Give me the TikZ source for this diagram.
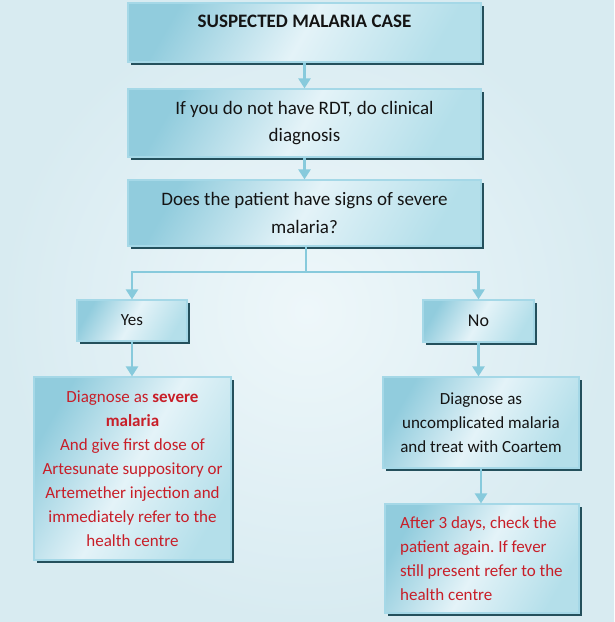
\documentclass[tikz,border=0pt]{standalone}
\usepackage{fontspec}
\setmainfont{Carlito}
\frenchspacing
\usetikzlibrary{arrows.meta,shadows,calc}
\definecolor{bgin}{RGB}{238,247,250}
\definecolor{bgout}{RGB}{216,235,241}
\definecolor{boxdark}{RGB}{145,204,221}
\definecolor{boxmid}{RGB}{228,243,248}
\definecolor{boxlight}{RGB}{180,223,234}
\definecolor{boxline}{RGB}{165,216,231}
\definecolor{shadowc}{RGB}{36,80,92}
\definecolor{arrowc}{RGB}{135,202,220}
\definecolor{redtxt}{RGB}{200,30,40}
\definecolor{blacktxt}{RGB}{20,20,20}
\tikzset{
  box/.style={draw=boxline, line width=1.2pt, left color=boxdark, right color=boxlight, middle color=boxmid,
    shading angle=60,
    drop shadow={shadow xshift=3pt, shadow yshift=-3pt, fill=shadowc, opacity=1},
    inner sep=0pt, align=center, font=\fontsize{17}{24}\selectfont, text=blacktxt},
  bigtxt/.style={font=\fontsize{19}{27.5}\selectfont},
  conn/.style={draw=arrowc, line width=2.4pt, -{Triangle[width=12pt,length=10pt]}},
  plain/.style={draw=arrowc, line width=2.4pt}
}
\begin{document}
\begin{tikzpicture}[x=1pt,y=-1pt]
\useasboundingbox (0,0) rectangle (614,622);
\shade[inner color=bgin, outer color=bgout] (0,0) rectangle (614,622);

\node[box, minimum width=353pt, minimum height=59pt] (b1) at (304.5,32.5) {};
\node[font=\fontsize{19}{24}\selectfont\bfseries, text=blacktxt, inner sep=0pt] (t1) at (304.5,21) {SUSPECTED MALARIA CASE};

\node[box, bigtxt, minimum width=353pt, minimum height=68pt] (b2) at (304.5,123)
  {If you do not have RDT, do clinical\\diagnosis};
\node[box, bigtxt, minimum width=353pt, minimum height=66pt] (b3) at (304.5,213)
  {Does the patient have signs of severe\\malaria?};

\node[box, minimum width=110pt, minimum height=41pt] (yes) at (132,320.5) {Yes};
\node[box, minimum width=111pt, minimum height=42pt, font=\fontsize{18}{24}\selectfont] (no) at (478.5,321) {No};

\node[box, minimum width=197pt, minimum height=183pt, text=redtxt] (lbox) at (132.5,468.5)
  {Diagnose as \textbf{severe}\\\textbf{malaria}\\And give first dose of\\Artesunate suppository or\\Artemether injection and\\immediately refer to the\\health centre};

\node[box, minimum width=196pt, minimum height=91pt] (r1) at (481,422.5)
  {Diagnose as\\uncomplicated malaria\\and treat with Coartem};

\node[box, minimum width=194pt, minimum height=109pt, text=redtxt] (r2) at (482,558.5) {};
\node[font=\fontsize{17}{24}\selectfont, text=redtxt, align=left, anchor=west, inner sep=0pt] (r2t) at (400,558.5)
  {After 3 days, check the\\patient again. If fever\\still present refer to the\\health centre};

\coordinate (j) at (306,272);
\draw[conn] (b1.south) -- (b2.north);
\draw[conn] (b2.south) -- (b3.north);
\draw[plain] (b3.south -| j) -- (j);
\draw[conn] (j) -| (yes.north);
\draw[conn] (j) -| (no.north);
\draw[conn] (yes.south) -- (yes.south |- lbox.north);
\draw[conn] (no.south) -- (no.south |- r1.north);
\draw[conn] (r1.south) -- (r1.south |- r2.north);
\end{tikzpicture}
\end{document}
